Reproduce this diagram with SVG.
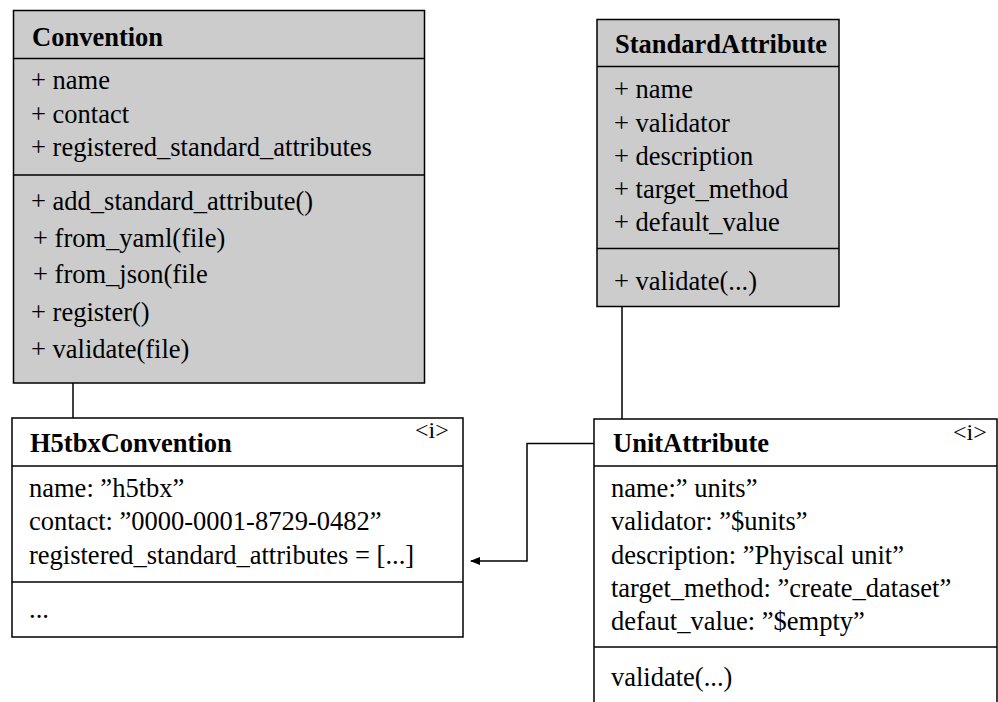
<svg xmlns="http://www.w3.org/2000/svg" width="998" height="702" viewBox="0 0 998 702">
<style>
.box{stroke:#000;stroke-width:1.5}
.abstract{fill:#cccccc}
.concrete{fill:#ffffff}
.sep{stroke:#000;stroke-width:1.5}
.t{font-family:"Liberation Serif","Times New Roman",serif;font-size:26.5px;fill:#000}
.b{font-weight:bold}
.i{font-size:24px}
.conn{fill:none;stroke:#000;stroke-width:1.5}
</style>
<defs>
<marker id="arr" markerWidth="10" markerHeight="8" refX="9" refY="4" orient="auto" markerUnits="userSpaceOnUse">
<path d="M0,0 L10,4 L0,8 Z" fill="#000"/>
</marker>
</defs>
<g id="connectors">
<line class="conn" x1="73" y1="383" x2="73" y2="418"/>
<line class="conn" x1="622" y1="307" x2="622" y2="419"/>
<polyline class="conn" points="594,443.5 527,443.5 527,561 471,561" marker-end="url(#arr)"/>
</g>
<g id="Convention">
<rect class="box abstract" x="13.5" y="10.5" width="411" height="372.5"/>
<line class="sep" x1="13.5" y1="58.5" x2="424.5" y2="58.5"/>
<line class="sep" x1="13.5" y1="175" x2="424.5" y2="175"/>
<text class="t b" x="32" y="45.5">Convention</text>
<text class="t" x="31" y="89">+ name</text>
<text class="t" x="31" y="122.5">+ contact</text>
<text class="t" x="31" y="156">+ registered_standard_attributes</text>
<text class="t" x="31" y="210">+ add_standard_attribute()</text>
<text class="t" x="33" y="246.5">+ from_yaml(file)</text>
<text class="t" x="33" y="283">+ from_json(file</text>
<text class="t" x="31" y="320.5">+ register()</text>
<text class="t" x="31" y="358">+ validate(file)</text>
</g>
<g id="StandardAttribute">
<rect class="box abstract" x="597" y="19.5" width="242" height="287"/>
<line class="sep" x1="597" y1="66.5" x2="839" y2="66.5"/>
<line class="sep" x1="597" y1="248.5" x2="839" y2="248.5"/>
<text class="t b" x="615" y="53">StandardAttribute</text>
<text class="t" x="614" y="98">+ name</text>
<text class="t" x="614" y="131.5">+ validator</text>
<text class="t" x="614" y="165">+ description</text>
<text class="t" x="614" y="198">+ target_method</text>
<text class="t" x="614" y="231">+ default_value</text>
<text class="t" x="614" y="290">+ validate(...)</text>
</g>
<g id="H5tbxConvention">
<rect class="box concrete" x="12" y="418" width="451" height="219"/>
<line class="sep" x1="12" y1="466" x2="463" y2="466"/>
<line class="sep" x1="12" y1="582" x2="463" y2="582"/>
<text class="t b" x="30" y="451.5">H5tbxConvention</text>
<text class="t i" x="415" y="438">&lt;i&gt;</text>
<text class="t" x="29" y="497">name: ”h5tbx”</text>
<text class="t" x="29" y="530">contact: ”0000-0001-8729-0482”</text>
<text class="t" x="29" y="563.5">registered_standard_attributes = [...]</text>
<text class="t" x="29" y="618">...</text>
</g>
<g id="UnitAttribute">
<rect class="box concrete" x="594" y="419" width="403" height="300"/>
<line class="sep" x1="594" y1="466" x2="997" y2="466"/>
<line class="sep" x1="594" y1="647" x2="997" y2="647"/>
<text class="t b" x="613" y="452">UnitAttribute</text>
<text class="t i" x="953" y="440">&lt;i&gt;</text>
<text class="t" x="611" y="497">name:” units”</text>
<text class="t" x="611" y="530">validator: ”$units”</text>
<text class="t" x="611" y="563.5">description: ”Phyiscal unit”</text>
<text class="t" x="611" y="596.5">target_method: ”create_dataset”</text>
<text class="t" x="611" y="629.5">defaut_value: ”$empty”</text>
<text class="t" x="611" y="686">validate(...)</text>
</g>
</svg>
